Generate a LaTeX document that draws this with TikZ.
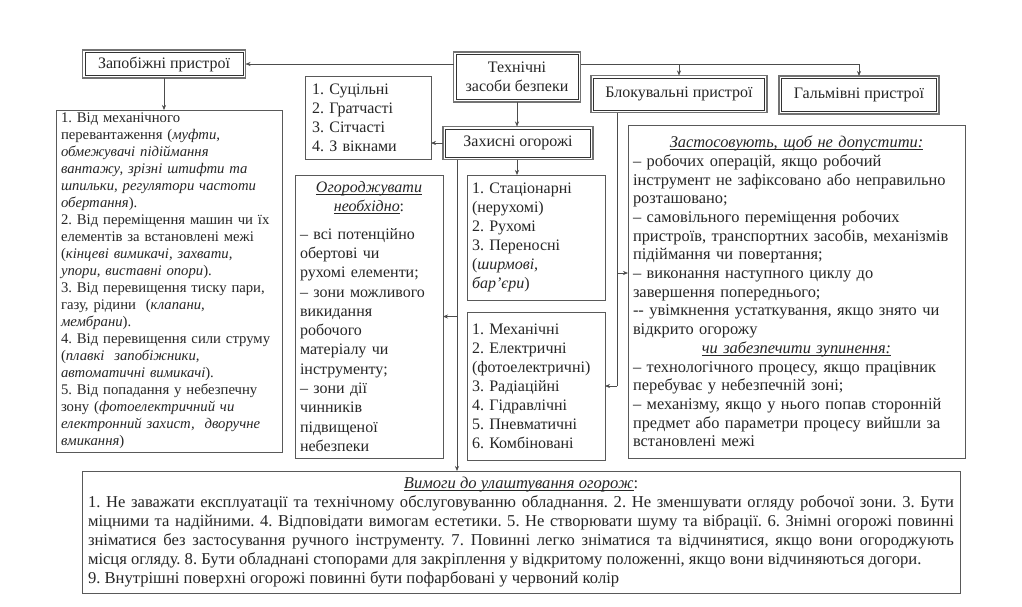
\documentclass[tikz,border=0pt]{standalone}
\usepackage{fontspec}
\setmainfont{Liberation Serif}
\usetikzlibrary{arrows.meta}
\frenchspacing
\newcommand\ctrline[1]{\leavevmode\hbox to \hsize{\hss#1\hss}}
\newcommand\uln[1]{\setbox0\hbox{#1}\rlap{\rule[-2.2pt]{\wd0}{0.6pt}}\box0}
\begin{document}
\frenchspacing
\begin{tikzpicture}[x=1pt,y=-1pt,
  every node/.style={text=black!85, inner sep=0pt, outer sep=0pt},
  tbox/.style={draw=black!55, line width=1.6pt, fill=white,
     font=\fontsize{16}{19}\selectfont\frenchspacing, align=center},
  lbox/.style={draw=black!65, line width=0.6pt, fill=white, align=left},
  arr/.style={draw=black!70, line width=0.6pt, -{Stealth[length=5pt,width=4pt]}},
  ln/.style={draw=black!70, line width=0.6pt},
  inln/.style={draw=black!80, line width=0.7pt}]
\fill[white] (0,0) rectangle (1022,606);
\useasboundingbox (0,0) rectangle (1022,606);

% title boxes
\node[tbox, minimum width=163, minimum height=28] (zap) at (164,64) {Запобіжні пристрої};
\node[tbox, minimum width=127, minimum height=50] (tech) at (517,77) {Технічні\\засоби безпеки};
\node[tbox, minimum width=176, minimum height=37] (blok) at (679,94) {Блокувальні пристрої};
\node[tbox, minimum width=160, minimum height=38] (galm) at (859,95) {Гальмівні пристрої};
\node[tbox, minimum width=150, minimum height=33] (zah) at (518,143) {Захисні огорожі};
\foreach \n in {zap,tech,blok,galm,zah}
  \draw[inln] ([shift={(2.6,2.6)}]\n.north west) rectangle ([shift={(-2.6,-2.6)}]\n.south east);

% list boxes
\node[lbox, minimum width=126, minimum height=83, text width=112,
  font=\fontsize{16}{19}\selectfont\frenchspacing] (sut) at (368,118)
  {1. Суцільні\\2. Гратчасті\\3. Сітчасті\\4. З вікнами};

\node[lbox, minimum width=226, minimum height=342, text width=216,
  font=\fontsize{14.7}{17}\selectfont\frenchspacing] (left) at (169,281)
  {1. Від механічного\\
   перевантаження (\textit{муфти,}\\
   \textit{обмежувачі підіймання}\\
   \textit{вантажу, зрізні штифти та}\\
   \textit{шпильки, регулятори частоти}\\
   \textit{обертання}).\\
   2. Від переміщення машин чи їх\\
   елементів за встановлені межі\\
   (\textit{кінцеві вимикачі, захвати,}\\
   \textit{упори, виставні опори}).\\
   3. Від перевищення тиску пари,\\
   газу, рідини\ \ (\textit{клапани,}\\
   \textit{мембрани}).\\
   4. Від перевищення сили струму\\
   (\textit{плавкі\ \ запобіжники,}\\
   \textit{автоматичні вимикачі}).\\
   5. Від попадання у небезпечну\\
   зону (\textit{фотоелектричний чи}\\
   \textit{електронний захист,\ \ дворучне}\\
   \textit{вмикання})};

\node[lbox, minimum width=148, minimum height=283, text width=138,
  font=\fontsize{16}{19.3}\selectfont\frenchspacing] (ogor) at (369,316.5)
  {\ctrline{\uln{\textit{Огороджувати}}}\\
   \ctrline{\uln{\textit{необхідно}}:}\\[8pt]
   – всі потенційно\\
   обертові чи\\
   рухомі елементи;\\
   – зони можливого\\
   викидання\\
   робочого\\
   матеріалу чи\\
   інструменту;\\
   – зони дії\\
   чинників\\
   підвищеної\\
   небезпеки};

\node[lbox, minimum width=138, minimum height=125, text width=128,
  font=\fontsize{16}{19}\selectfont\frenchspacing] (stat) at (536,237.5)
  {1. Стаціонарні\\
   (нерухомі)\\
   2. Рухомі\\
   3. Переносні\\
   (\textit{ширмові,}\\
   \textit{бар’єри})};

\node[lbox, minimum width=138, minimum height=148, text width=128,
  font=\fontsize{16}{19}\selectfont\frenchspacing] (mech) at (536,386)
  {1. Механічні\\
   2. Електричні\\
   (фотоелектричні)\\
   3. Радіаційні\\
   4. Гідравлічні\\
   5. Пневматичні\\
   6. Комбіновані};

\node[lbox, minimum width=337, minimum height=333, text width=327,
  font=\fontsize{16.4}{18.7}\selectfont\frenchspacing] (zast) at (796.5,291.5)
  {\ctrline{\uln{\textit{Застосовують, щоб не допустити:}}}\\
   – робочих операцій, якщо робочий\\
   інструмент не зафіксовано або неправильно\\
   розташовано;\\
   – самовільного переміщення робочих\\
   пристроїв, транспортних засобів, механізмів\\
   підіймання чи повертання;\\
   – виконання наступного циклу до\\
   завершення попереднього;\\
   -{}- увімкнення устаткування, якщо знято чи\\
   відкрито огорожу\\
   \ctrline{\uln{\textit{чи забезпечити зупинення:}}}\\
   – технологічного процесу, якщо працівник\\
   перебуває у небезпечній зоні;\\
   – механізму, якщо у нього попав сторонній\\
   предмет або параметри процесу вийшли за\\
   встановлені межі};

\node[lbox, align=justify, minimum width=878, minimum height=122, text width=866,
  font=\fontsize{16.6}{19}\selectfont\frenchspacing] (bot) at (521,532)
  {\ctrline{\uln{\textit{Вимоги до улаштування огорож}}:}\\
   1. Не заважати експлуатації та технічному обслуговуванню обладнання. 2. Не зменшувати огляду робочої зони. 3. Бути\linebreak
   міцними та надійними. 4. Відповідати вимогам естетики. 5. Не створювати шуму та вібрації. 6. Знімні огорожі повинні\linebreak
   зніматися без застосування ручного інструменту. 7. Повинні легко зніматися та відчинятися, якщо вони огороджують\linebreak
   місця огляду. 8. Бути обладнані стопорами для закріплення у відкритому положенні, якщо вони відчиняються догори.\par
   9. Внутрішні поверхні огорожі повинні бути пофарбовані у червоний колір\par};

% connectors
\coordinate (zx) at (457,0);
\coordinate (bx) at (617,273);
\draw[arr] (tech.west |- zap.east) -- (zap.east);
\draw[arr] (zap.south) -- (zap.south |- left.north);
\draw[ln] (tech.east |- zap.east) -- (galm.north |- zap.east);
\draw[arr] (blok.north |- zap.east) -- (blok.north);
\draw[arr] (galm.north |- zap.east) -- (galm.north);
\draw[arr] (tech.south) -- (tech.south |- zah.north);
\draw[arr] (zah.west) -- (zah.west -| sut.east);
\draw[arr] (tech.south |- zah.south) -- (tech.south |- stat.north);
\draw[arr] (zah.south -| zx) -- (bot.north -| zx);
\draw[arr] (zx |- ogor.east) -- (ogor.east);
\draw[ln] (blok.south -| bx) -- (bx |- mech.east);
\draw[arr] (bx |- mech.east) -- (mech.east);
\draw[arr] (bx) -- (bx -| zast.west);
\end{tikzpicture}
\end{document}
